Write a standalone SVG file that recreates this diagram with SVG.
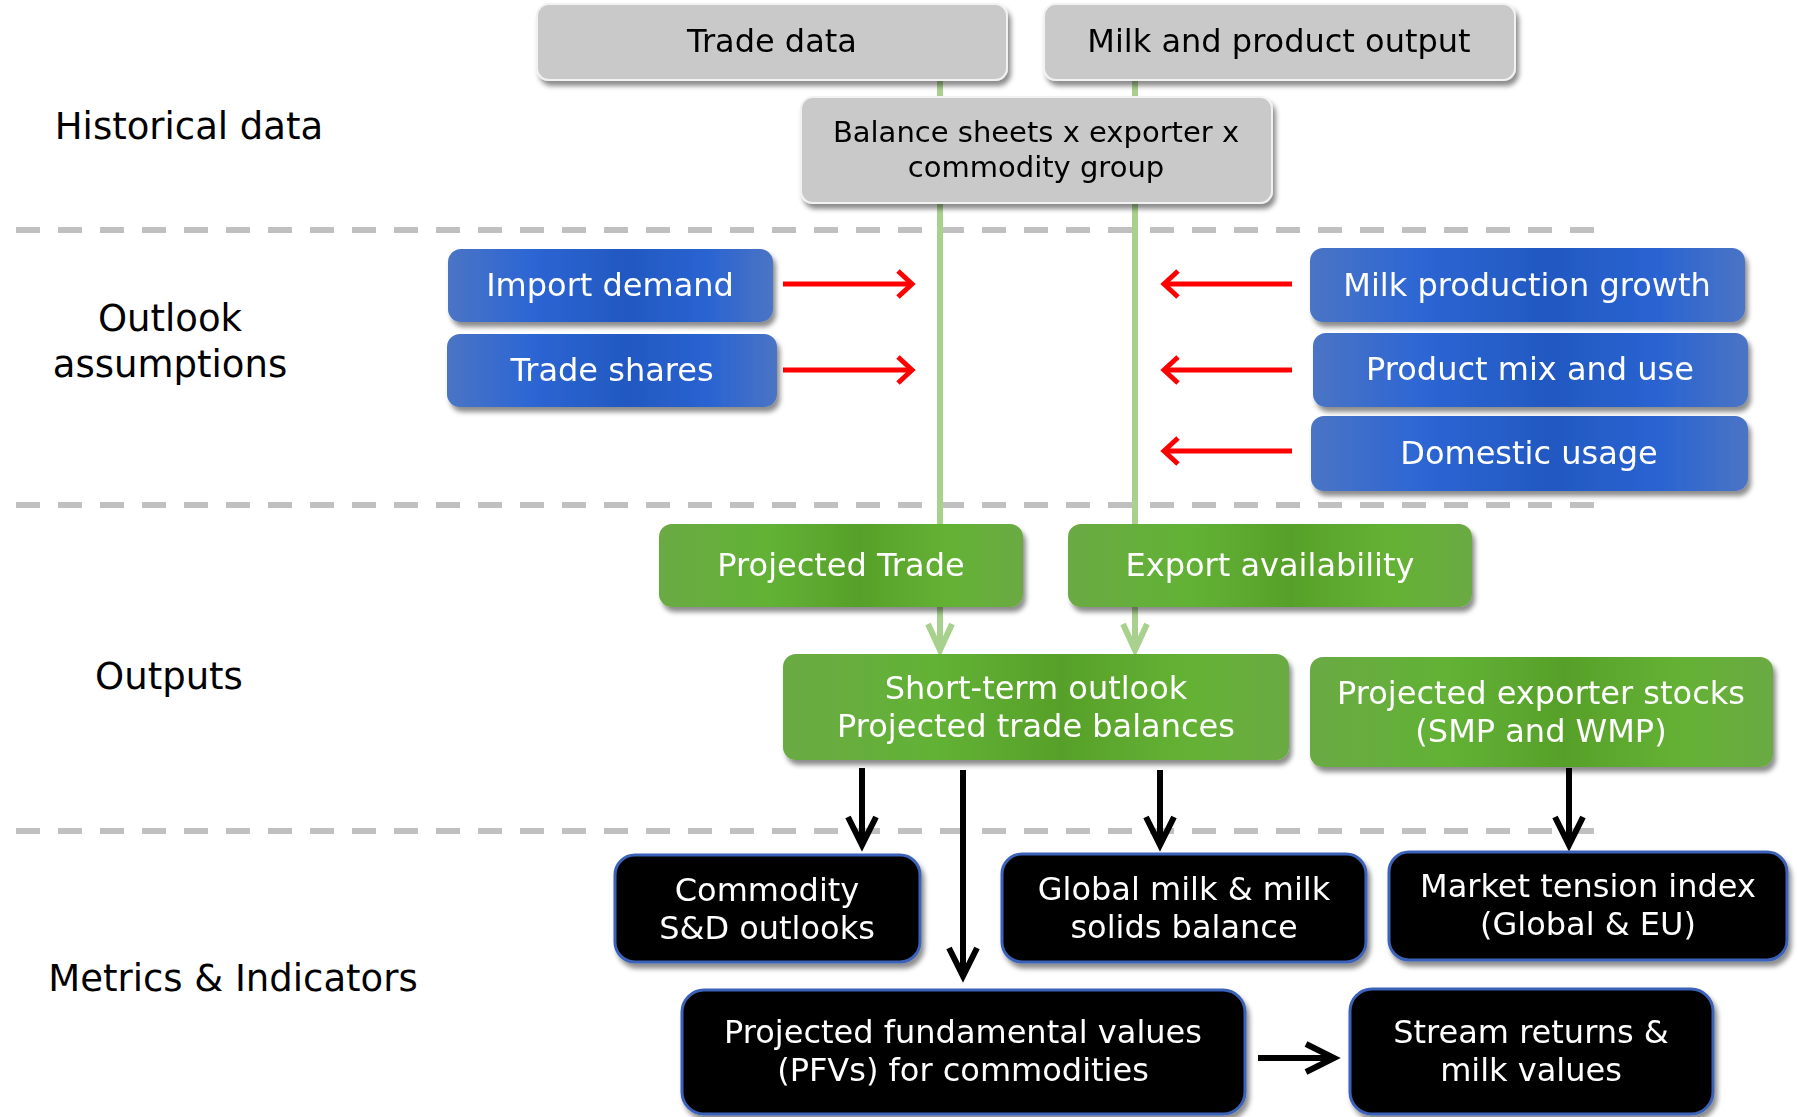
<svg xmlns="http://www.w3.org/2000/svg" width="1798" height="1117" viewBox="0 0 1798 1117">
<defs>
<style>
.lbl{font-family:"DejaVu Sans","Open Sans",sans-serif;font-size:37px;fill:#000;text-anchor:middle}
.t{font-family:"DejaVu Sans","Open Sans",sans-serif;font-size:32px;text-anchor:middle}
.sm{font-size:29px}
.dk{fill:#000}
.wt{fill:#fff}
.gray{fill:#c9c9c9;stroke:#f2f2f2;stroke-width:2}
.blue{fill:url(#gBlue)}
.green{fill:url(#gGreen)}
.black{fill:#000;stroke:#3a62b8;stroke-width:3}
.dash{stroke:#c0c0c0;stroke-width:6;stroke-dasharray:24 18;fill:none}
.gl{stroke:#a9d18e;stroke-width:6;fill:none}
.rl{stroke:#ff0000;stroke-width:5;fill:none}
.bl{stroke:#000;stroke-width:6;fill:none}
</style>
<filter id="sh" x="-10%" y="-20%" width="125%" height="150%">
<feDropShadow dx="3" dy="5" stdDeviation="2.5" flood-color="#000" flood-opacity="0.45"/>
</filter>
<linearGradient id="gBlue" x1="0" y1="0" x2="1" y2="0">
<stop offset="0" stop-color="#4a74c4"/>
<stop offset="0.25" stop-color="#2d66d4"/>
<stop offset="0.55" stop-color="#2258c0"/>
<stop offset="0.8" stop-color="#2a64d2"/>
<stop offset="1" stop-color="#4a74c4"/>
</linearGradient>
<linearGradient id="gGreen" x1="0" y1="0" x2="1" y2="0">
<stop offset="0" stop-color="#6aaa44"/>
<stop offset="0.3" stop-color="#62b235"/>
<stop offset="0.55" stop-color="#57a02a"/>
<stop offset="0.8" stop-color="#64b234"/>
<stop offset="1" stop-color="#6aaa44"/>
</linearGradient>
<marker id="mG" markerUnits="userSpaceOnUse" viewBox="-30 -30 60 60" markerWidth="60" markerHeight="60" refX="0" refY="0" orient="auto" overflow="visible">
<path d="M-26,-12 L0,0 L-26,12" fill="none" stroke="#a9d18e" stroke-width="6"/>
</marker>
<marker id="mR" markerUnits="userSpaceOnUse" viewBox="-30 -30 60 60" markerWidth="60" markerHeight="60" refX="0" refY="0" orient="auto" overflow="visible">
<path d="M-14,-13 L0,0 L-14,13" fill="none" stroke="#ff0000" stroke-width="5"/>
</marker>
<marker id="mB" markerUnits="userSpaceOnUse" viewBox="-30 -30 60 60" markerWidth="60" markerHeight="60" refX="0" refY="0" orient="auto" overflow="visible">
<path d="M-28,-14 L0,0 L-28,14" fill="none" stroke="#000" stroke-width="6"/>
</marker>
</defs>
<rect width="1798" height="1117" fill="#fff"/>

<g id="separators">
<line class="dash" x1="16" y1="230" x2="1596" y2="230"/>
<line class="dash" x1="16" y1="505" x2="1596" y2="505"/>
<line class="dash" x1="16" y1="831" x2="1596" y2="831"/>
</g>

<g id="section-labels">
<text class="lbl" x="189" y="139">Historical data</text>
<text class="lbl" x="170" y="331">Outlook</text>
<text class="lbl" x="170" y="377">assumptions</text>
<text class="lbl" x="169" y="689">Outputs</text>
<text class="lbl" x="233" y="991">Metrics &amp; Indicators</text>
</g>

<g id="connectors">
<line class="gl" x1="940" y1="78" x2="940" y2="650" marker-end="url(#mG)"/>
<line class="gl" x1="1135" y1="78" x2="1135" y2="650" marker-end="url(#mG)"/>
<line class="rl" x1="783" y1="284" x2="912" y2="284" marker-end="url(#mR)"/>
<line class="rl" x1="783" y1="370" x2="912" y2="370" marker-end="url(#mR)"/>
<line class="rl" x1="1292" y1="284" x2="1164" y2="284" marker-end="url(#mR)"/>
<line class="rl" x1="1292" y1="370" x2="1164" y2="370" marker-end="url(#mR)"/>
<line class="rl" x1="1292" y1="451" x2="1164" y2="451" marker-end="url(#mR)"/>
<line class="bl" x1="862" y1="768" x2="862" y2="845" marker-end="url(#mB)"/>
<line class="bl" x1="963" y1="770" x2="963" y2="976" marker-end="url(#mB)"/>
<line class="bl" x1="1160" y1="770" x2="1160" y2="845" marker-end="url(#mB)"/>
<line class="bl" x1="1569" y1="768" x2="1569" y2="845" marker-end="url(#mB)"/>
<line class="bl" x1="1258" y1="1058" x2="1334" y2="1058" marker-end="url(#mB)"/>
</g>

<g id="node-trade-data" filter="url(#sh)">
<rect class="gray" x="537" y="4" width="470" height="76" rx="12"/>
<text class="t dk" x="772" y="52">Trade data</text>
</g>
<g id="node-milk-output" filter="url(#sh)">
<rect class="gray" x="1044" y="4" width="471" height="76" rx="12"/>
<text class="t dk" x="1279" y="52">Milk and product output</text>
</g>
<g id="node-balance-sheets" filter="url(#sh)">
<rect class="gray" x="801" y="97" width="471" height="106" rx="12"/>
<text class="t sm dk" x="1036" y="142">Balance sheets x exporter x</text>
<text class="t sm dk" x="1036" y="177">commodity group</text>
</g>

<g id="node-import-demand" filter="url(#sh)">
<rect class="blue" x="448" y="249" width="325" height="73" rx="13"/>
<text class="t wt" x="610" y="296">Import demand</text>
</g>
<g id="node-trade-shares" filter="url(#sh)">
<rect class="blue" x="447" y="334" width="330" height="73" rx="13"/>
<text class="t wt" x="612" y="381">Trade shares</text>
</g>
<g id="node-milk-growth" filter="url(#sh)">
<rect class="blue" x="1310" y="248" width="435" height="74" rx="13"/>
<text class="t wt" x="1527" y="296">Milk production growth</text>
</g>
<g id="node-product-mix" filter="url(#sh)">
<rect class="blue" x="1313" y="333" width="435" height="74" rx="13"/>
<text class="t wt" x="1530" y="380">Product mix and use</text>
</g>
<g id="node-domestic-usage" filter="url(#sh)">
<rect class="blue" x="1311" y="416" width="437" height="75" rx="13"/>
<text class="t wt" x="1529" y="464">Domestic usage</text>
</g>

<g id="node-projected-trade" filter="url(#sh)">
<rect class="green" x="659" y="524" width="364" height="83" rx="13"/>
<text class="t wt" x="841" y="576">Projected Trade</text>
</g>
<g id="node-export-availability" filter="url(#sh)">
<rect class="green" x="1068" y="524" width="404" height="83" rx="13"/>
<text class="t wt" x="1270" y="576">Export availability</text>
</g>
<g id="node-short-term" filter="url(#sh)">
<rect class="green" x="783" y="654" width="506" height="106" rx="13"/>
<text class="t wt" x="1036" y="699">Short-term outlook</text>
<text class="t wt" x="1036" y="737">Projected trade balances</text>
</g>
<g id="node-exporter-stocks" filter="url(#sh)">
<rect class="green" x="1310" y="657" width="463" height="110" rx="13"/>
<text class="t wt" x="1541" y="704">Projected exporter stocks</text>
<text class="t wt" x="1541" y="742">(SMP and WMP)</text>
</g>

<g id="node-commodity-sd" filter="url(#sh)">
<rect class="black" x="615" y="855" width="305" height="107" rx="20"/>
<text class="t wt" x="767" y="901">Commodity</text>
<text class="t wt" x="767" y="939">S&amp;D outlooks</text>
</g>
<g id="node-global-milk" filter="url(#sh)">
<rect class="black" x="1002" y="854" width="364" height="108" rx="20"/>
<text class="t wt" x="1184" y="900">Global milk &amp; milk</text>
<text class="t wt" x="1184" y="938">solids balance</text>
</g>
<g id="node-market-tension" filter="url(#sh)">
<rect class="black" x="1389" y="852" width="398" height="108" rx="20"/>
<text class="t wt" x="1588" y="897">Market tension index</text>
<text class="t wt" x="1588" y="935">(Global &amp; EU)</text>
</g>
<g id="node-pfv" filter="url(#sh)">
<rect class="black" x="682" y="990" width="563" height="124" rx="22"/>
<text class="t wt" x="963" y="1043">Projected fundamental values</text>
<text class="t wt" x="963" y="1081">(PFVs) for commodities</text>
</g>
<g id="node-stream-returns" filter="url(#sh)">
<rect class="black" x="1350" y="989" width="363" height="125" rx="22"/>
<text class="t wt" x="1531" y="1043">Stream returns &amp;</text>
<text class="t wt" x="1531" y="1081">milk values</text>
</g>
</svg>
